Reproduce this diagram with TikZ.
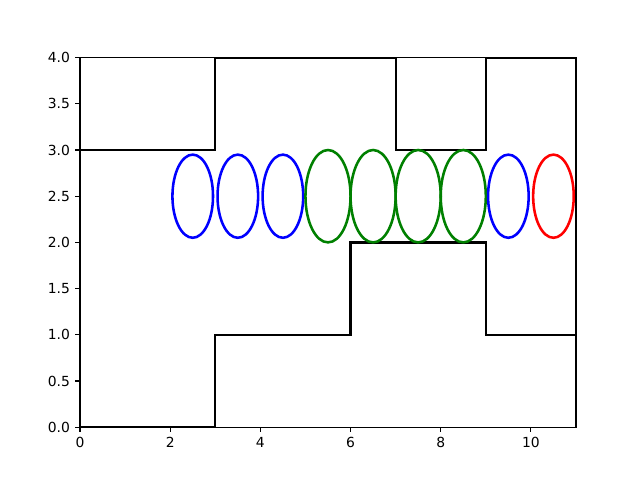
\documentclass[tikz,border=0pt]{standalone}
\usepackage{fontspec}
\setmainfont{DejaVu Sans}
\usetikzlibrary{positioning}
\definecolor{mplblue}{RGB}{0, 0, 255}
\definecolor{mplgreen}{RGB}{0, 128, 0}
\definecolor{mplred}{RGB}{255, 0, 0}

\begin{document}
\begin{tikzpicture}[
    x=0.90182cm, y=1.848cm,
    wall/.style={draw=black, line width=1.25pt, line join=miter},
    axisframe/.style={draw=black, line width=0.6pt},
    ring/.style={line width=1.45pt},
    ticklabel/.style={font=\fontsize{7.9}{9}\selectfont, inner sep=0pt}
]
\useasboundingbox (-1.7742,-0.5714) rectangle (12.4194,4.6234);

% Walls of the channel
\draw[wall] (0,3) -- (3,3) -- (3,4) -- (7,4) -- (7,3) -- (9,3) -- (9,4) -- (11,4) -- (11,1);
\draw[wall] (0,0) -- (3,0) -- (3,1) -- (6,1) -- (6,2) -- (9,2) -- (9,1) -- (11,1);

% Loops
\foreach \cx/\col/\r in {2.5/mplblue/0.45, 3.5/mplblue/0.45, 4.5/mplblue/0.45,
                         5.5/mplgreen/0.5, 6.5/mplgreen/0.5, 7.5/mplgreen/0.5, 8.5/mplgreen/0.5,
                         9.5/mplblue/0.45, 10.5/mplred/0.45}
    \draw[ring, draw=\col] (\cx,2.5) ellipse [x radius=\r, y radius=\r];

% Axes
\draw[axisframe] (0,0) rectangle (11,4);
\foreach \xv in {0,2,4,6,8,10} {
    \draw[axisframe] (\xv,0) -- ++(0,-0.0972cm);
    \node[ticklabel, anchor=north] (xt\xv) at ([yshift=-0.194cm]\xv,0) {\xv};
}
\foreach \yv/\ylab in {0/0.0, 0.5/0.5, 1/1.0, 1.5/1.5, 2/2.0, 2.5/2.5, 3/3.0, 3.5/3.5, 4/4.0} {
    \draw[axisframe] (0,\yv) -- ++(-0.0972cm,0);
    \node[ticklabel, anchor=east] (yt\ylab) at ([xshift=-0.194cm]0,\yv) {\ylab};
}

\end{tikzpicture}
\end{document}
